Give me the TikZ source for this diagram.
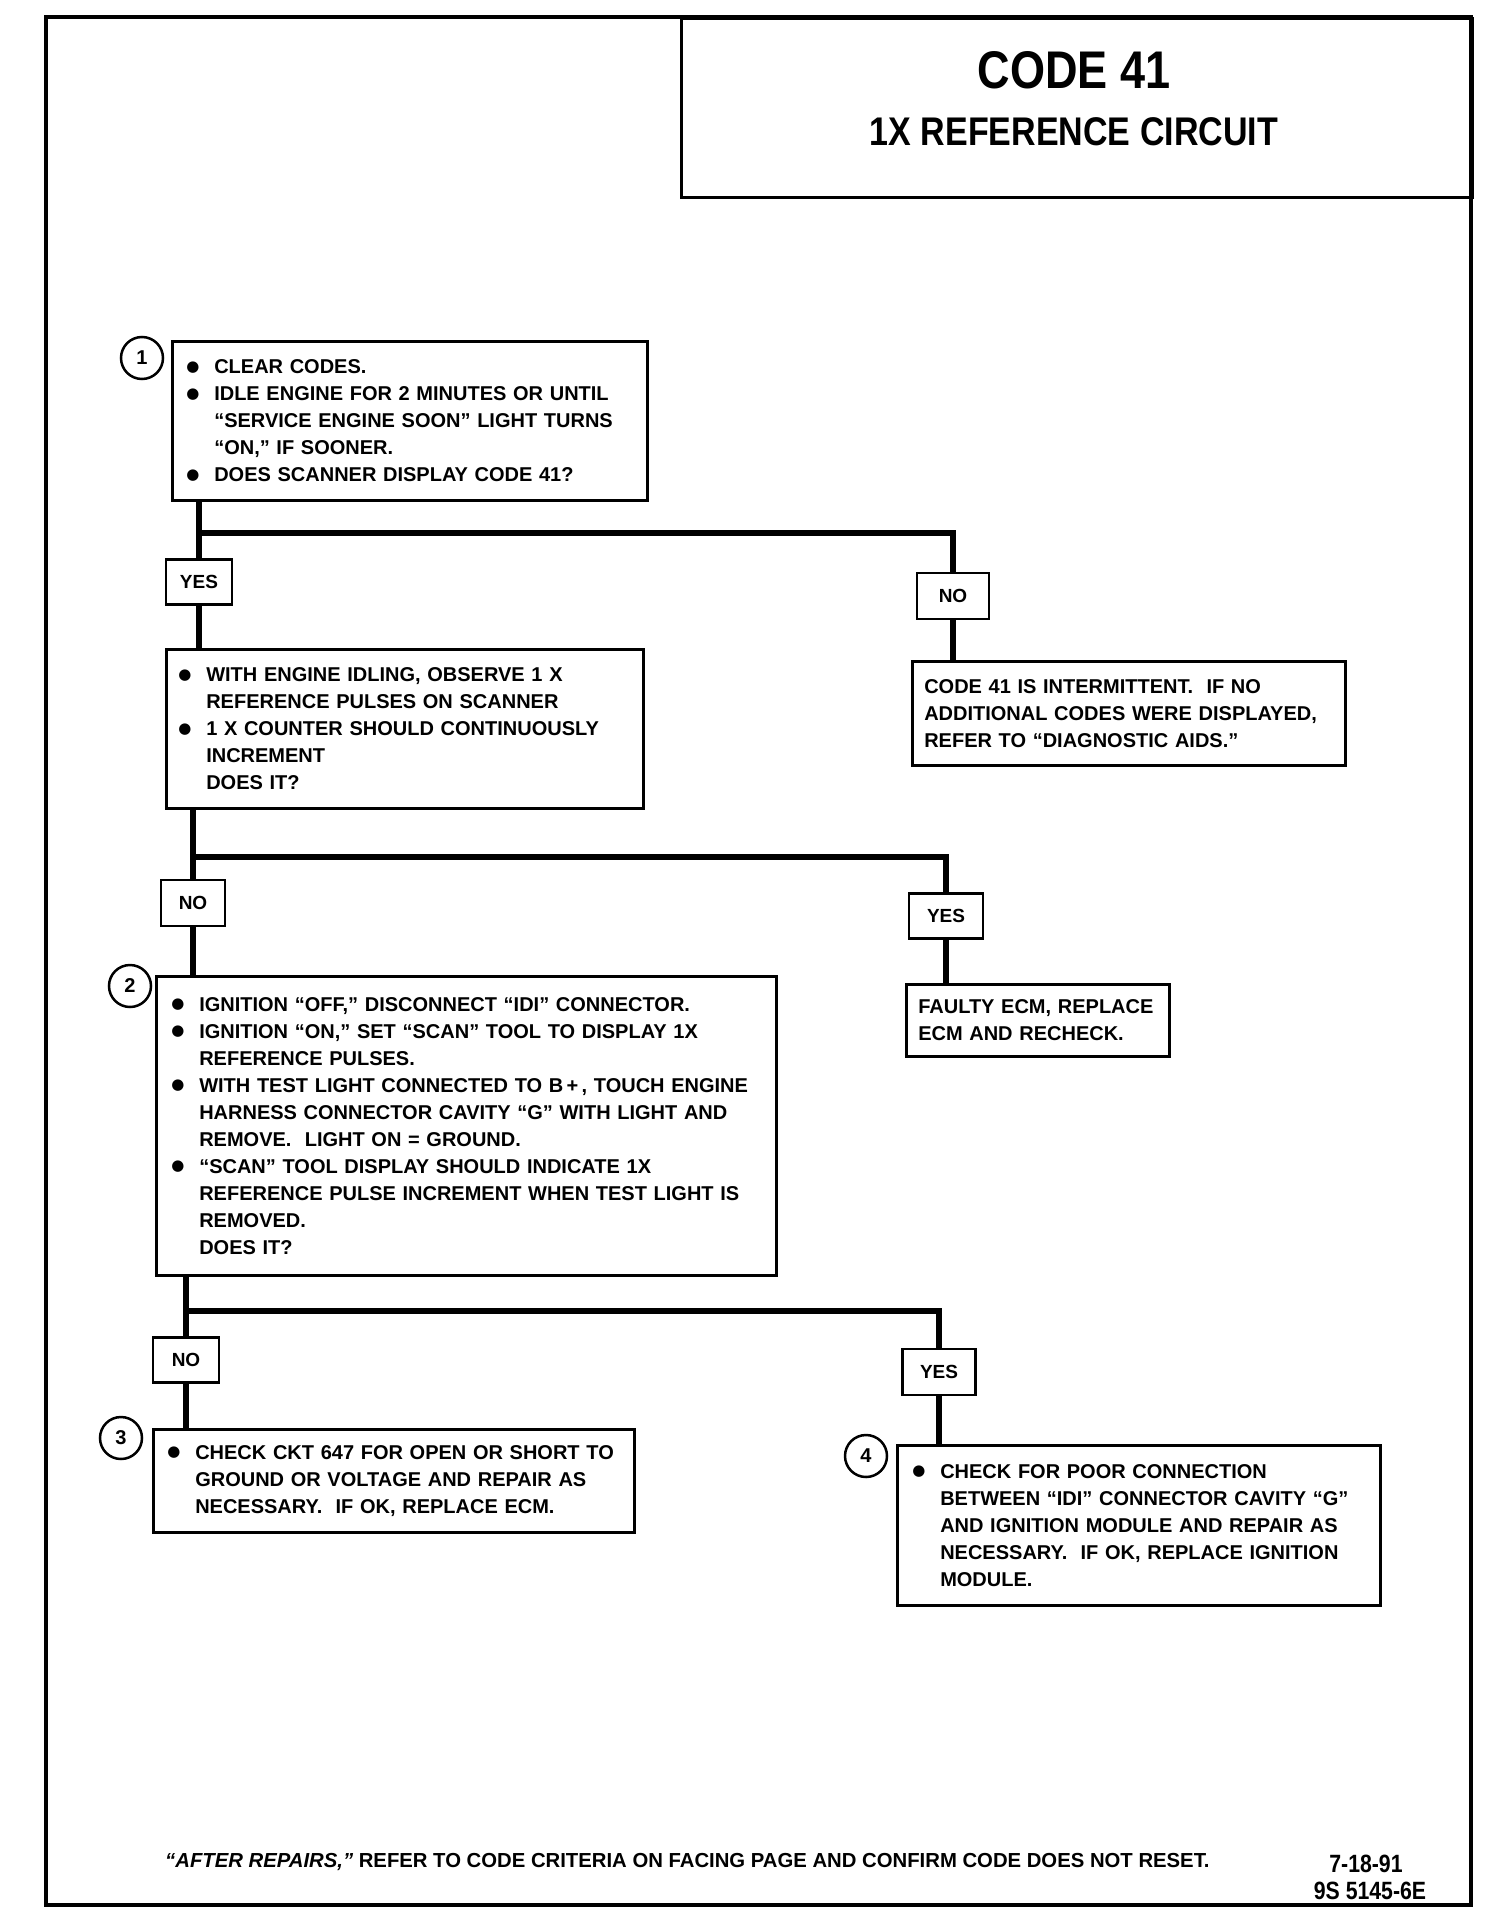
\documentclass[tikz,border=0pt]{standalone}
\usepackage{fontspec}
\setmainfont{Liberation Sans}[Ligatures=TeX]
\newfontfamily\condfont{Liberation Sans}[FakeStretch=0.85,Ligatures=TeX]
\newfontfamily\symfont{DejaVu Sans}
\newcommand\mybul{\makebox[28pt][l]{\raisebox{2.5pt}{\symfont\fontsize{15}{15}\selectfont ●}}}
\newcommand\myind{\hspace*{28pt}}
\begin{document}
\begin{tikzpicture}[x=1pt,y=-1pt,
  stepbox/.style={draw, line width=2.5pt, anchor=north west, align=left,
    font=\fontsize{20}{27}\selectfont\bfseries, inner ysep=0pt},
  lbl/.style={draw, line width=2.2pt, font=\fontsize{19}{22}\selectfont\bfseries, inner sep=0pt},
  num/.style={draw, circle, line width=2.5pt, minimum size=42pt, inner sep=0pt,
    font=\fontsize{20}{22}\selectfont\bfseries},
  flow/.style={line width=5.5pt},
]
\useasboundingbox (0,0) rectangle (1504,1918);
\fill[white] (0,0) rectangle (1504,1918);
\draw[line width=3.5pt] (46,17) rectangle (1471,1905);

% title
\node[draw, line width=3pt, anchor=north west, minimum width=791pt, minimum height=179pt] (title) at (680,17) {};
\node[font=\condfont\fontsize{53}{60}\selectfont\bfseries] (tA) at (1074,70) {CODE 41};
\node[font=\condfont\fontsize{40}{46}\selectfont\bfseries] (tB) at (1074,132) {1X REFERENCE CIRCUIT};

% step 1
\node[num] (c1) at (142,358) {1};
\node[stepbox, inner xsep=14pt, text width=447pt, minimum height=159pt] (b1) at (171,340) {%
\mybul CLEAR CODES.\\
\mybul IDLE ENGINE FOR 2 MINUTES OR UNTIL\\
\myind ``SERVICE ENGINE SOON'' LIGHT TURNS\\
\myind ``ON,'' IF SOONER.\\
\mybul DOES SCANNER DISPLAY CODE 41?};

\node[lbl, minimum width=66pt, minimum height=45pt] (yes1) at (199,582) {YES};
\node[lbl, minimum width=72pt, minimum height=46pt] (no1) at (953,596) {NO};

\node[stepbox, inner xsep=12pt, text width=453pt, minimum height=159pt] (b2) at (165,648) {%
\mybul WITH ENGINE IDLING, OBSERVE 1 X\\
\myind REFERENCE PULSES ON SCANNER\\
\mybul 1 X COUNTER SHOULD CONTINUOUSLY\\
\myind INCREMENT\\
\myind DOES IT?};

\node[stepbox, inner xsep=12pt, text width=409pt, minimum height=104pt] (b3) at (911,660) {%
CODE 41 IS INTERMITTENT.\ \ IF NO\\
ADDITIONAL CODES WERE DISPLAYED,\\
REFER TO ``DIAGNOSTIC AIDS.''};

\coordinate (h1) at (0,533);
\draw[flow] (b1.south -| yes1) -- (yes1.north);
\draw[flow] (yes1 |- h1) -| (no1.north);
\draw[flow] (yes1.south) -- (b2.north -| yes1);
\draw[flow] (no1.south) -- (b3.north -| no1);

% step 2
\node[lbl, minimum width=64pt, minimum height=46pt] (no2) at (193,903) {NO};
\node[lbl, minimum width=74pt, minimum height=45pt] (yes2) at (946,916) {YES};

\node[stepbox, inner xsep=12pt, text width=239pt, minimum height=72pt] (b4) at (905,983) {%
FAULTY ECM, REPLACE\\
ECM AND RECHECK.};

\node[num] (c2) at (130,986) {2};
\node[stepbox, inner xsep=15pt, text width=590pt, minimum height=299pt] (b5) at (155,975) {%
\mybul IGNITION ``OFF,'' DISCONNECT ``IDI'' CONNECTOR.\\
\mybul IGNITION ``ON,'' SET ``SCAN'' TOOL TO DISPLAY 1X\\
\myind REFERENCE PULSES.\\
\mybul WITH TEST LIGHT CONNECTED TO B\,+\,, TOUCH ENGINE\\
\myind HARNESS CONNECTOR CAVITY ``G'' WITH LIGHT AND\\
\myind REMOVE.\ \ LIGHT ON = GROUND.\\
\mybul ``SCAN'' TOOL DISPLAY SHOULD INDICATE 1X\\
\myind REFERENCE PULSE INCREMENT WHEN TEST LIGHT IS\\
\myind REMOVED.\\
\myind DOES IT?};

\coordinate (h2) at (0,857);
\draw[flow] (b2.south -| no2) -- (no2.north);
\draw[flow] (no2 |- h2) -| (yes2.north);
\draw[flow] (no2.south) -- (b5.north -| no2);
\draw[flow] (yes2.south) -- (b4.north -| yes2);

% step 3 / 4
\node[lbl, minimum width=66pt, minimum height=45pt] (no3) at (186,1360) {NO};
\node[lbl, minimum width=73pt, minimum height=46pt] (yes3) at (939,1372) {YES};

\node[num] (c3) at (121,1438) {3};
\node[stepbox, inner xsep=14pt, text width=453pt, minimum height=103pt] (b6) at (152,1428) {%
\mybul CHECK CKT 647 FOR OPEN OR SHORT TO\\
\myind GROUND OR VOLTAGE AND REPAIR AS\\
\myind NECESSARY.\ \ IF OK, REPLACE ECM.};

\node[num] (c4) at (866,1456) {4};
\node[stepbox, inner xsep=15pt, text width=453pt, minimum height=160pt] (b7) at (896,1444) {%
\mybul CHECK FOR POOR CONNECTION\\
\myind BETWEEN ``IDI'' CONNECTOR CAVITY ``G''\\
\myind AND IGNITION MODULE AND REPAIR AS\\
\myind NECESSARY.\ \ IF OK, REPLACE IGNITION\\
\myind MODULE.};

\coordinate (h3) at (0,1311);
\draw[flow] (b5.south -| no3) -- (no3.north);
\draw[flow] (no3 |- h3) -| (yes3.north);
\draw[flow] (no3.south) -- (b6.north -| no3);
\draw[flow] (yes3.south) -- (b7.north -| yes3);

% footer
\node[anchor=west, inner sep=0pt, font=\fontsize{20.3}{24}\selectfont\bfseries] (foot) at (165,1862)
  {\textit{``AFTER REPAIRS,''} REFER TO CODE CRITERIA ON FACING PAGE AND CONFIRM CODE DOES NOT RESET.};
\node[font=\condfont\fontsize{25}{28}\selectfont\bfseries] (date) at (1366,1864) {7-18-91};
\node[font=\condfont\fontsize{25}{28}\selectfont\bfseries] (code) at (1370,1891) {9S 5145-6E};
\end{tikzpicture}
\end{document}
